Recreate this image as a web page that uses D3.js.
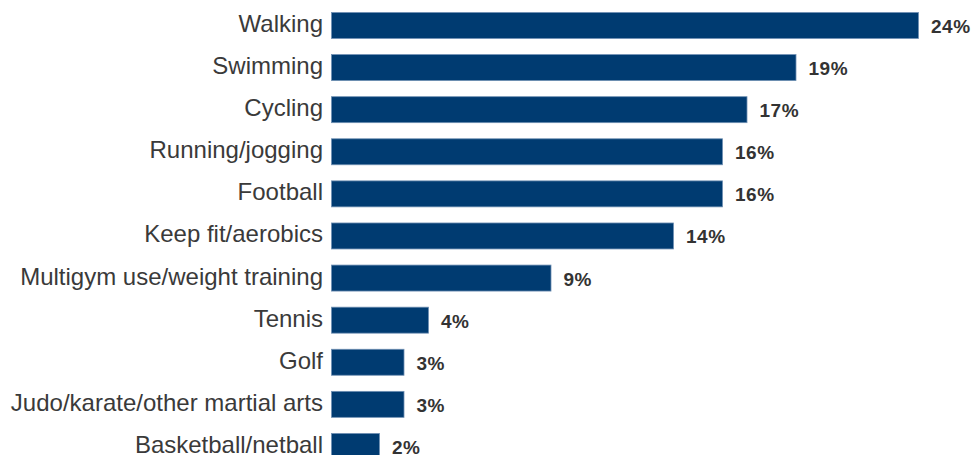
<!DOCTYPE html>
<html>
<head>
<meta charset="utf-8">
<script src="https://cdn.jsdelivr.net/npm/d3@7/dist/d3.min.js"></script>
<style>
  html, body { margin: 0; padding: 0; background: #ffffff; }
  svg { display: block; }
</style>
</head>
<body>
<script>
// Share of respondents taking part in each sport / activity
const categories = [
  "Walking",
  "Swimming",
  "Cycling",
  "Running/jogging",
  "Football",
  "Keep fit/aerobics",
  "Multigym use/weight training",
  "Tennis",
  "Golf",
  "Judo/karate/other martial arts",
  "Basketball/netball"
];
const values = [24, 19, 17, 16, 16, 14, 9, 4, 3, 3, 2];
const valueLabels = values.map(v => v + "%");

const width = 974, height = 455;

const svg = d3.select("body").append("svg")
  .attr("width", width)
  .attr("height", height);

const x = d3.scaleLinear()
  .domain([0, 24])
  .range([331, 919]);

const y = d3.scaleBand()
  .domain(categories)
  .range([4.44, 467.5])
  .paddingInner(0.359)
  .paddingOuter(0.1795);

const rows = categories.map((c, i) => ({ cat: c, value: values[i], label: valueLabels[i] }));

// bars
svg.append("g")
  .selectAll("rect")
  .data(rows)
  .join("rect")
  .attr("x", x(0) + 0.5)
  .attr("y", d => y(d.cat) + 0.5)
  .attr("width", d => x(d.value) - x(0) - 1)
  .attr("height", y.bandwidth() - 1)
  .attr("fill", "#003b71")
  .attr("stroke", "#6f90b3")
  .attr("stroke-width", 0.8);

// category labels
svg.append("g")
  .selectAll("text")
  .data(rows)
  .join("text")
  .attr("x", 323)
  .attr("y", d => y(d.cat) + y.bandwidth() / 2 - 2)
  .attr("text-anchor", "end")
  .attr("dominant-baseline", "central")
  .attr("font-family", "Liberation Sans, Arial, sans-serif")
  .attr("font-size", "24px")
  .attr("fill", "#3a3a3a")
  .text(d => d.cat);

// value labels
svg.append("g")
  .selectAll("text")
  .data(rows)
  .join("text")
  .attr("x", d => x(d.value) + 12)
  .attr("y", d => y(d.cat) + y.bandwidth() / 2 + 1)
  .attr("dominant-baseline", "central")
  .attr("font-family", "Liberation Sans, Arial, sans-serif")
  .attr("font-size", "19px")
  .attr("font-weight", "bold")
  .attr("letter-spacing", "0.5px")
  .attr("fill", "#333333")
  .text(d => d.label);
</script>
</body>
</html>
